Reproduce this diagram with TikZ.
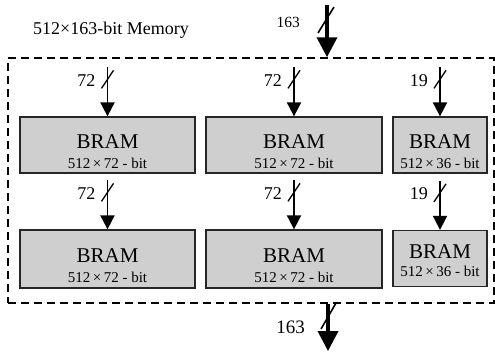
\documentclass[tikz,border=0pt]{standalone}
\usepackage{fontspec}
\setmainfont{Liberation Serif}
\usetikzlibrary{arrows.meta,positioning}

\newcommand{\bramtext}[1]{{\fontsize{21}{21}\selectfont BRAM}\\512\,×\,#1 - bit}

\tikzset{
  bram/.style={draw=black!85, fill=black!19, line width=1.3pt, minimum height=56pt, inner sep=0pt, align=center, text height=47pt, font=\fontsize{15}{20}\selectfont},
  bus/.style={line width=1.9pt, -{Triangle[width=14pt,length=14pt]}},
  widebus/.style={line width=3.8pt, -{Triangle[width=20pt,length=20pt]}},
  buscut/.style={line width=1.3pt},
  buslabel/.style={font=\fontsize{18}{18}\selectfont, anchor=east, inner sep=0pt},
}

\begin{document}
\begin{tikzpicture}[x=1pt,y=-1pt]
        \useasboundingbox (0,0) rectangle (495,356);
        % memory frame
        \node[draw, dashed, dash pattern=on 8pt off 5pt, line width=1.5pt, minimum width=486pt, minimum height=245pt, inner sep=0pt] (mem) at (251,180.5) {};
        \node[anchor=west, font=\fontsize{18}{18}\selectfont, inner sep=0pt] (title) at (33,30) {512×163-bit Memory};
        % block rams, two rows
        \node[bram, minimum width=175pt] (r1a) at (107.5,145) {\bramtext{72}};
        \node[bram, minimum width=176pt] (r1b) at (294,145) {\bramtext{72}};
        \node[bram, minimum width=94pt] (r1c) at (440,145) {\bramtext{36}};
        \node[bram, minimum width=175pt, minimum height=58pt] (r2a) at (107.5,259) {\bramtext{72}};
        \node[bram, minimum width=176pt, minimum height=58pt] (r2b) at (294,259) {\bramtext{72}};
        \node[bram, minimum width=94pt, text height=36pt, font=\fontsize{15}{18}\selectfont] (r2c) at (440,258.5) {\bramtext{36}};
        % inputs into the rams
        \foreach \b/\w in {r1a/72, r1b/72, r1c/19, r2a/72, r2b/72, r2c/19}
        {
          \coordinate[above=49pt of \b.north] (in\b);
          \draw[bus] (in\b) -- (\b.north);
          \draw[buscut] ([shift={(-6,21)}]in\b) -- ++(12,-18);
          \node[buslabel] (w\b) at ([shift={(-12,13)}]in\b) {\w};
        }
        % 163-bit bus in and out
        \coordinate (busin) at (327,5);
        \draw[widebus] (busin) -- (busin |- mem.north);
        \draw[buscut, line width=1.6pt] (318,33) -- (334,7);
        \node[buslabel, font=\fontsize{15.5}{15.5}\selectfont] (win) at (300,22) {163};
        \coordinate (busout) at (328,351);
        \draw[widebus] (busout |- mem.south) -- (busout);
        \draw[buscut, line width=1.6pt] (321,329) -- (336,303);
        \node[buslabel, font=\fontsize{19}{19}\selectfont] (wout) at (305,327) {163};
    \end{tikzpicture}
\end{document}
